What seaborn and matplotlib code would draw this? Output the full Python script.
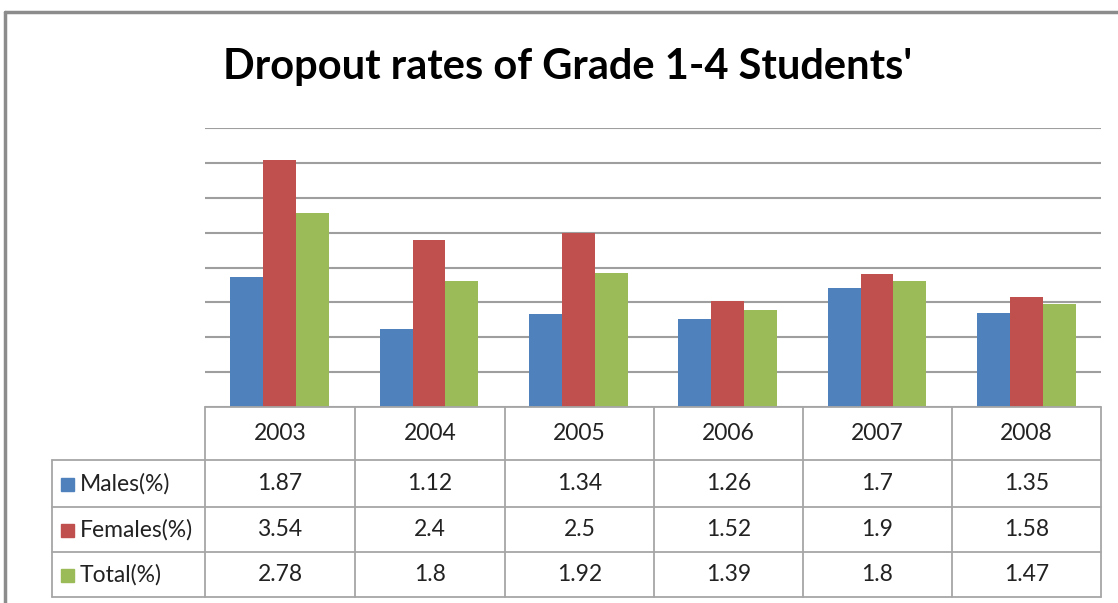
import matplotlib
matplotlib.use("Agg")
import matplotlib.pyplot as plt
import seaborn as sns
import pandas as pd
from matplotlib.lines import Line2D
from matplotlib.patches import Rectangle

years = ["2003", "2004", "2005", "2006", "2007", "2008"]
series_names = ["Males(%)", "Females(%)", "Total(%)"]
males = [1.87, 1.12, 1.34, 1.26, 1.7, 1.35]
females = [3.54, 2.4, 2.5, 1.52, 1.9, 1.58]
total = [2.78, 1.8, 1.92, 1.39, 1.8, 1.47]
males_lbl = ["1.87", "1.12", "1.34", "1.26", "1.7", "1.35"]
females_lbl = ["3.54", "2.4", "2.5", "1.52", "1.9", "1.58"]
total_lbl = ["2.78", "1.8", "1.92", "1.39", "1.8", "1.47"]
colors = ["#4F81BD", "#C0504D", "#9BBB59"]
title = "Dropout rates of Grade 1-4 Students'"

sns.set_theme(style="white")
plt.rcParams['font.family'] = ['Lato', 'DejaVu Sans']

W, H = 1118, 603
fig = plt.figure(figsize=(W / 100, H / 100), dpi=100)

def fx(px):
    return px / W

def fy(py):
    return 1 - py / H

left, right, top, bottom = 205, 1101, 128, 407
ax = fig.add_axes([fx(left), fy(bottom), fx(right - left), (bottom - top) / H])

df = pd.DataFrame({
    "year": years * 3,
    "series": [series_names[0]] * 6 + [series_names[1]] * 6 + [series_names[2]] * 6,
    "value": males + females + total,
})
sns.barplot(data=df, x="year", y="value", hue="series", palette=colors,
            width=0.66, ax=ax, legend=False, saturation=1, edgecolor="none")
ax.set_ylim(0, 4.0)
ax.set_xlim(-0.5, 5.5)
ax.set_yticks([0.5 * i for i in range(9)])
ax.yaxis.grid(True, color="#9E9E9E", linewidth=1.5)
ax.set_axisbelow(True)
ax.set_yticklabels([])
ax.set_xticklabels([])
ax.tick_params(left=False, bottom=False)
ax.set_xlabel("")
ax.set_ylabel("")
for s in ax.spines.values():
    s.set_visible(False)

# outer frame
fig.add_artist(Line2D([fx(5), fx(1118)], [fy(12), fy(12)], color="#8C8C8C", lw=2.5))
fig.add_artist(Line2D([fx(5), fx(5)], [fy(12), fy(603)], color="#8C8C8C", lw=2.5))

# title
fig.text(fx(568), fy(67), title, ha="center", va="center", fontsize=30,
         fontweight="bold", color="black")

# data table
gc = "#A6A6A6"
col_x = [205, 355, 505, 654, 803, 952, 1101]
row_y = [407, 460, 507, 552, 597]
tlw = 1.3
for x in col_x:
    fig.add_artist(Line2D([fx(x), fx(x)], [fy(407), fy(597)], color=gc, lw=tlw))
fig.add_artist(Line2D([fx(52), fx(52)], [fy(460), fy(597)], color=gc, lw=tlw))
fig.add_artist(Line2D([fx(205), fx(1101)], [fy(407), fy(407)], color=gc, lw=tlw))
for y in row_y[1:]:
    fig.add_artist(Line2D([fx(52), fx(1101)], [fy(y), fy(y)], color=gc, lw=tlw))

fs = 16.5
for i, yr in enumerate(years):
    cx = (col_x[i] + col_x[i + 1]) / 2
    fig.text(fx(cx), fy((row_y[0] + row_y[1]) / 2), yr, ha="center", va="center",
             fontsize=fs, color="#222222")
rows = [males_lbl, females_lbl, total_lbl]
for r, (name, vals, c) in enumerate(zip(series_names, rows, colors)):
    cy = (row_y[r + 1] + row_y[r + 2]) / 2
    fig.add_artist(Rectangle((fx(61), fy(cy + 7)), 13 / W, 13 / H, color=c,
                             transform=fig.transFigure))
    fig.text(fx(80), fy(cy), name, ha="left", va="center", fontsize=fs, color="#222222")
    for i, v in enumerate(vals):
        cx = (col_x[i] + col_x[i + 1]) / 2
        fig.text(fx(cx), fy(cy), v, ha="center", va="center", fontsize=fs, color="#222222")

fig.savefig("out.png", dpi=100, facecolor="white")
